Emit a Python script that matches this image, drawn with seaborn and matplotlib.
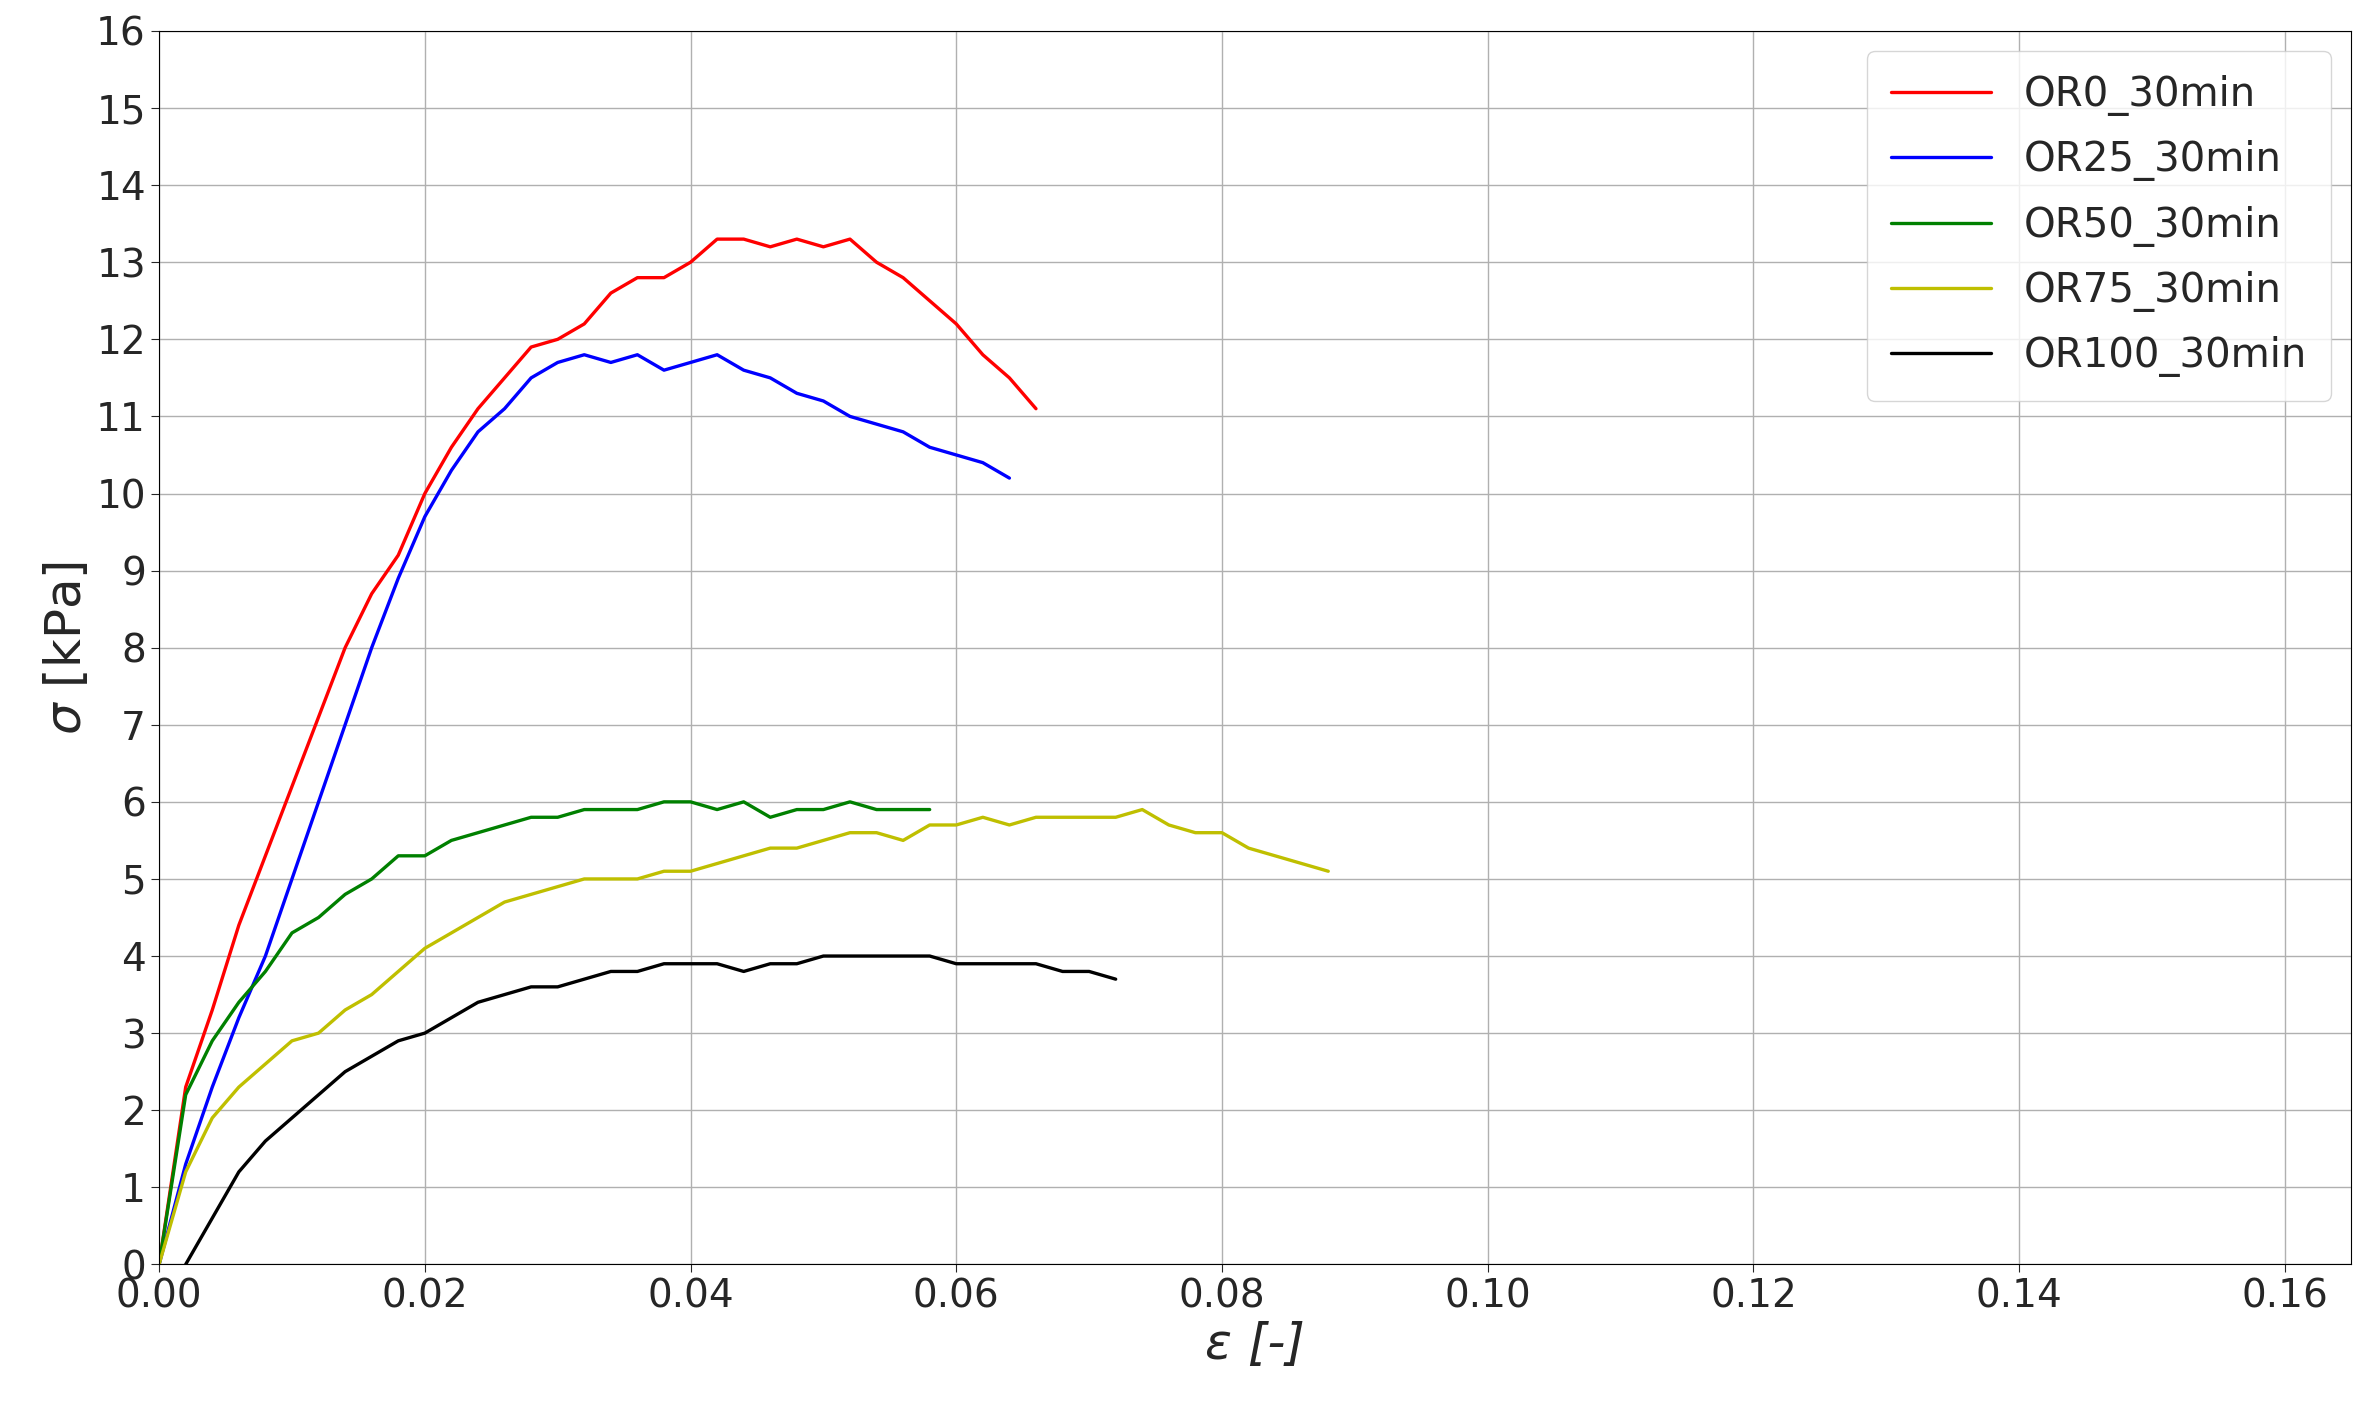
import numpy as np
import pandas as pd
import matplotlib
matplotlib.use("Agg")
import matplotlib.pyplot as plt
import seaborn as sns

labels = ["OR0_30min", "OR25_30min", "OR50_30min", "OR75_30min", "OR100_30min"]
colors = ["red", "blue", "green", "y", "black"]
x_start = [0.0, 0.0, 0.0, 0.0, 0.002]
x_step = 0.002
or0 = [0, 2.3, 3.3, 4.4, 5.3, 6.2, 7.1, 8.0, 8.7, 9.2, 10.0, 10.6, 11.1, 11.5, 11.9, 12.0, 12.2,
       12.6, 12.8, 12.8, 13.0, 13.3, 13.3, 13.2, 13.3, 13.2, 13.3, 13.0, 12.8, 12.5, 12.2, 11.8, 11.5, 11.1]
or25 = [0, 1.3, 2.3, 3.2, 4.0, 5.0, 6.0, 7.0, 8.0, 8.9, 9.7, 10.3, 10.8, 11.1, 11.5, 11.7, 11.8,
        11.7, 11.8, 11.6, 11.7, 11.8, 11.6, 11.5, 11.3, 11.2, 11.0, 10.9, 10.8, 10.6, 10.5, 10.4, 10.2]
or50 = [0, 2.2, 2.9, 3.4, 3.8, 4.3, 4.5, 4.8, 5.0, 5.3, 5.3, 5.5, 5.6, 5.7, 5.8, 5.8, 5.9, 5.9,
        5.9, 6.0, 6.0, 5.9, 6.0, 5.8, 5.9, 5.9, 6.0, 5.9, 5.9, 5.9]
or75 = [0, 1.2, 1.9, 2.3, 2.6, 2.9, 3.0, 3.3, 3.5, 3.8, 4.1, 4.3, 4.5, 4.7, 4.8, 4.9, 5.0, 5.0,
        5.0, 5.1, 5.1, 5.2, 5.3, 5.4, 5.4, 5.5, 5.6, 5.6, 5.5, 5.7, 5.7, 5.8, 5.7, 5.8, 5.8, 5.8,
        5.8, 5.9, 5.7, 5.6, 5.6, 5.4, 5.3, 5.2, 5.1]
or100 = [0, 0.6, 1.2, 1.6, 1.9, 2.2, 2.5, 2.7, 2.9, 3.0, 3.2, 3.4, 3.5, 3.6, 3.6, 3.7, 3.8, 3.8,
         3.9, 3.9, 3.9, 3.8, 3.9, 3.9, 4.0, 4.0, 4.0, 4.0, 4.0, 3.9, 3.9, 3.9, 3.9, 3.8, 3.8, 3.7]
series = [or0, or25, or50, or75, or100]

frames = []
for lab, x0, ys in zip(labels, x_start, series):
    frames.append(pd.DataFrame({"eps": x0 + np.arange(len(ys)) * x_step, "sigma": ys, "series": lab}))
df = pd.concat(frames)

sns.set_style("white")
fig = plt.figure(figsize=(23.75, 14.08), dpi=100)
ax = fig.add_axes([0.067, 0.102, 0.923, 0.876])
sns.lineplot(data=df, x="eps", y="sigma", hue="series", hue_order=labels,
             palette=dict(zip(labels, colors)), ax=ax, linewidth=2.4, sort=False, estimator=None)
ax.set_xlim(0, 0.165)
ax.set_ylim(0, 16)
ax.set_xticks(np.arange(0, 0.161, 0.02))
ax.set_xticklabels([f"{v:.2f}" for v in np.arange(0, 0.161, 0.02)])
ax.set_yticks(range(0, 17))
ax.grid(True, color="#b0b0b0", linewidth=1)
for s in ax.spines.values():
    s.set_color("black")
ax.tick_params(labelsize=28, direction="out", length=6, left=True, bottom=True)
ax.set_xlabel("ε [-]", fontsize=36, style="italic")
ax.set_ylabel("$\\sigma$ [kPa]", fontsize=36)
ax.legend(loc="upper right", fontsize=29, handlelength=2.5, borderpad=0.6, labelspacing=0.6)
fig.savefig("out.png", dpi=100)
